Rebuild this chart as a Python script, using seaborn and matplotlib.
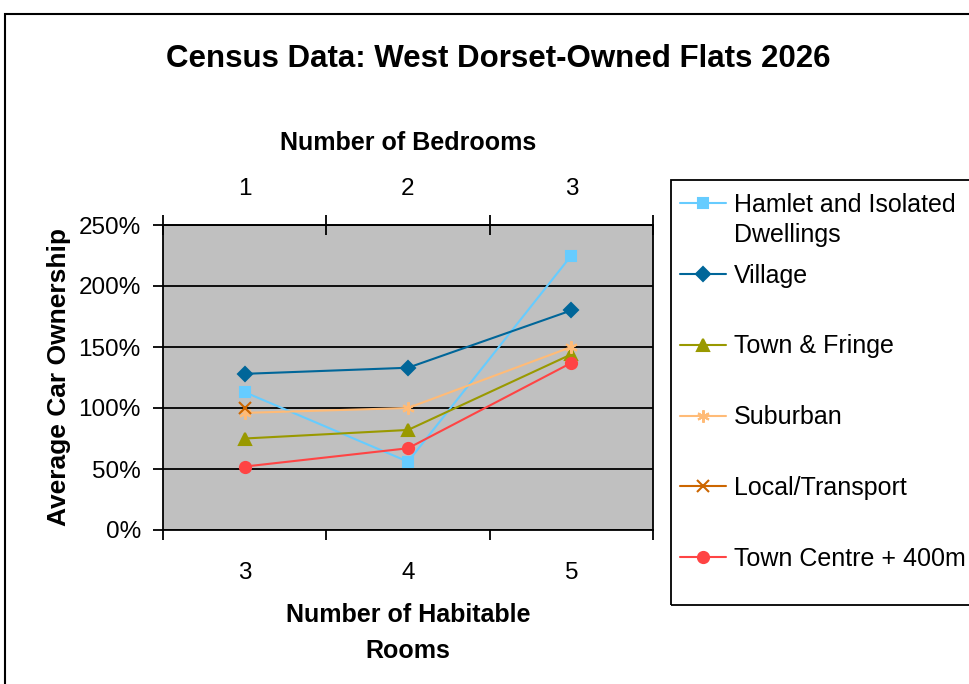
import pandas as pd
import numpy as np
import matplotlib
matplotlib.use('Agg')
import matplotlib.pyplot as plt
from matplotlib.patches import Rectangle
from matplotlib.ticker import FuncFormatter
import seaborn as sns

# Chart data
rooms = ['3', '4', '5']
bedrooms = ['1', '2', '3']
areas = ['Hamlet and Isolated Dwellings', 'Village', 'Town & Fringe',
         'Suburban', 'Local/Transport', 'Town Centre + 400m']
hamlet = [113, 56, 225]
village = [128, 133, 180]
town_fringe = [75, 82, 144]
suburban = [96, 100, 150]
local_transport = [100, np.nan, np.nan]
town_centre = [52, 67, 137]

colors = {'Hamlet and Isolated Dwellings': '#66CCFF', 'Village': '#006699',
          'Town & Fringe': '#999900', 'Suburban': '#FFBB77',
          'Local/Transport': '#CC6600', 'Town Centre + 400m': '#FF4444'}
markers = {'Hamlet and Isolated Dwellings': 's', 'Village': 'D',
           'Town & Fringe': '^', 'Suburban': (6, 2, 0),
           'Local/Transport': 'x', 'Town Centre + 400m': 'o'}
msizes = {'Hamlet and Isolated Dwellings': 7, 'Village': 7,
          'Town & Fringe': 9, 'Suburban': 9,
          'Local/Transport': 8, 'Town Centre + 400m': 8}

values = [hamlet, village, town_fringe, suburban, local_transport, town_centre]
rows = []
for area, vals in zip(areas, values):
    for r, v in zip(rooms, vals):
        rows.append({'Rooms': r, 'Area': area, 'Ownership': v})
df = pd.DataFrame(rows)

sns.set_theme(style='white')
plt.rcParams['font.family'] = ['Liberation Sans', 'DejaVu Sans']
plt.rcParams['text.color'] = 'black'
plt.rcParams['axes.labelcolor'] = 'black'
plt.rcParams['xtick.color'] = 'black'
plt.rcParams['ytick.color'] = 'black'

fig = plt.figure(figsize=(9.7, 6.84), dpi=100)
ax = fig.add_axes([163/970, 1-530/684, (653-163)/970, (530-225)/684])
ax.set_facecolor('#C0C0C0')

# keep the categorical order of rooms on the x axis
ax.plot(rooms, [np.nan] * len(rooms))
for area in areas:
    sub = df[df['Area'] == area].dropna()
    sns.lineplot(data=sub, x='Rooms', y='Ownership', color=colors[area],
                 marker=markers[area], markersize=msizes[area],
                 markeredgecolor=colors[area], markerfacecolor=colors[area],
                 markeredgewidth=1.5, linewidth=1.5, errorbar=None,
                 sort=False, label=area, ax=ax)

ax.set_xlim(-0.5, 2.5)
ax.set_ylim(0, 250)
ax.set_yticks([0, 50, 100, 150, 200, 250])
ax.yaxis.set_major_formatter(FuncFormatter(lambda v, p: f'{v:.0f}%'))
ax.yaxis.grid(True, color='black', linewidth=1.3)
ax.set_axisbelow(True)
for s in ax.spines.values():
    s.set_color('black')
    s.set_linewidth(1.3)

ax.set_xticks([0, 1, 2])
ax.set_xticklabels(rooms)
ax.set_xticks([-0.5, 0.5, 1.5, 2.5], minor=True)
ax.tick_params(axis='x', which='major', length=0, pad=23, labelsize=17.5)
ax.tick_params(axis='x', which='minor', length=7, width=1.3, direction='out', color='black', bottom=True)
ax.tick_params(axis='y', length=7, width=1.3, direction='out', color='black',
               pad=9, labelsize=17.5, left=True)
ax.set_xlabel('Number of Habitable\nRooms', fontsize=18, fontweight='bold',
              labelpad=14, linespacing=1.6)
ax.set_ylabel('Average Car Ownership', fontsize=19, fontweight='bold', labelpad=5)

top = ax.secondary_xaxis('top')
top.set_xticks([0, 1, 2])
top.set_xticklabels(bedrooms)
top.set_xticks([-0.5, 0.5, 1.5, 2.5], minor=True)
top.tick_params(axis='x', which='major', length=0, pad=18, labelsize=17.5)
top.tick_params(axis='x', which='minor', length=14, width=1.3, direction='inout', color='black', top=True)
top.set_xlabel('Number of Bedrooms', fontsize=18, fontweight='bold', labelpad=20)
top.spines['top'].set_linewidth(1.3)

fig.suptitle('Census Data: West Dorset-Owned Flats 2026', fontsize=22.5,
             fontweight='bold', x=498/970, y=1-59/684, va='center')

# legend
handles, labels = ax.get_legend_handles_labels()
if ax.get_legend() is not None:
    ax.get_legend().remove()
labels = ['Hamlet and Isolated' if l.startswith('Hamlet') else l for l in labels]
fig.legend(handles, labels, loc='upper left',
           bbox_to_anchor=(680/970, 1-193/684), frameon=False, fontsize=18,
           handlelength=1.84, handletextpad=0.32, labelspacing=1.87, borderpad=0,
           borderaxespad=0)
fig.text(734/970, 1-235/684, 'Dwellings', fontsize=18, va='center', ha='left')

fig.patches.append(Rectangle((671/970, 1-605/684), 1, (605-180)/684, fill=False,
                             edgecolor='black', linewidth=1.3, transform=fig.transFigure))
fig.patches.append(Rectangle((5/970, -0.2), 2, 1.2-14/684, fill=False,
                             edgecolor='black', linewidth=1.5, transform=fig.transFigure))

fig.savefig('out.png', dpi=100, facecolor='white')
